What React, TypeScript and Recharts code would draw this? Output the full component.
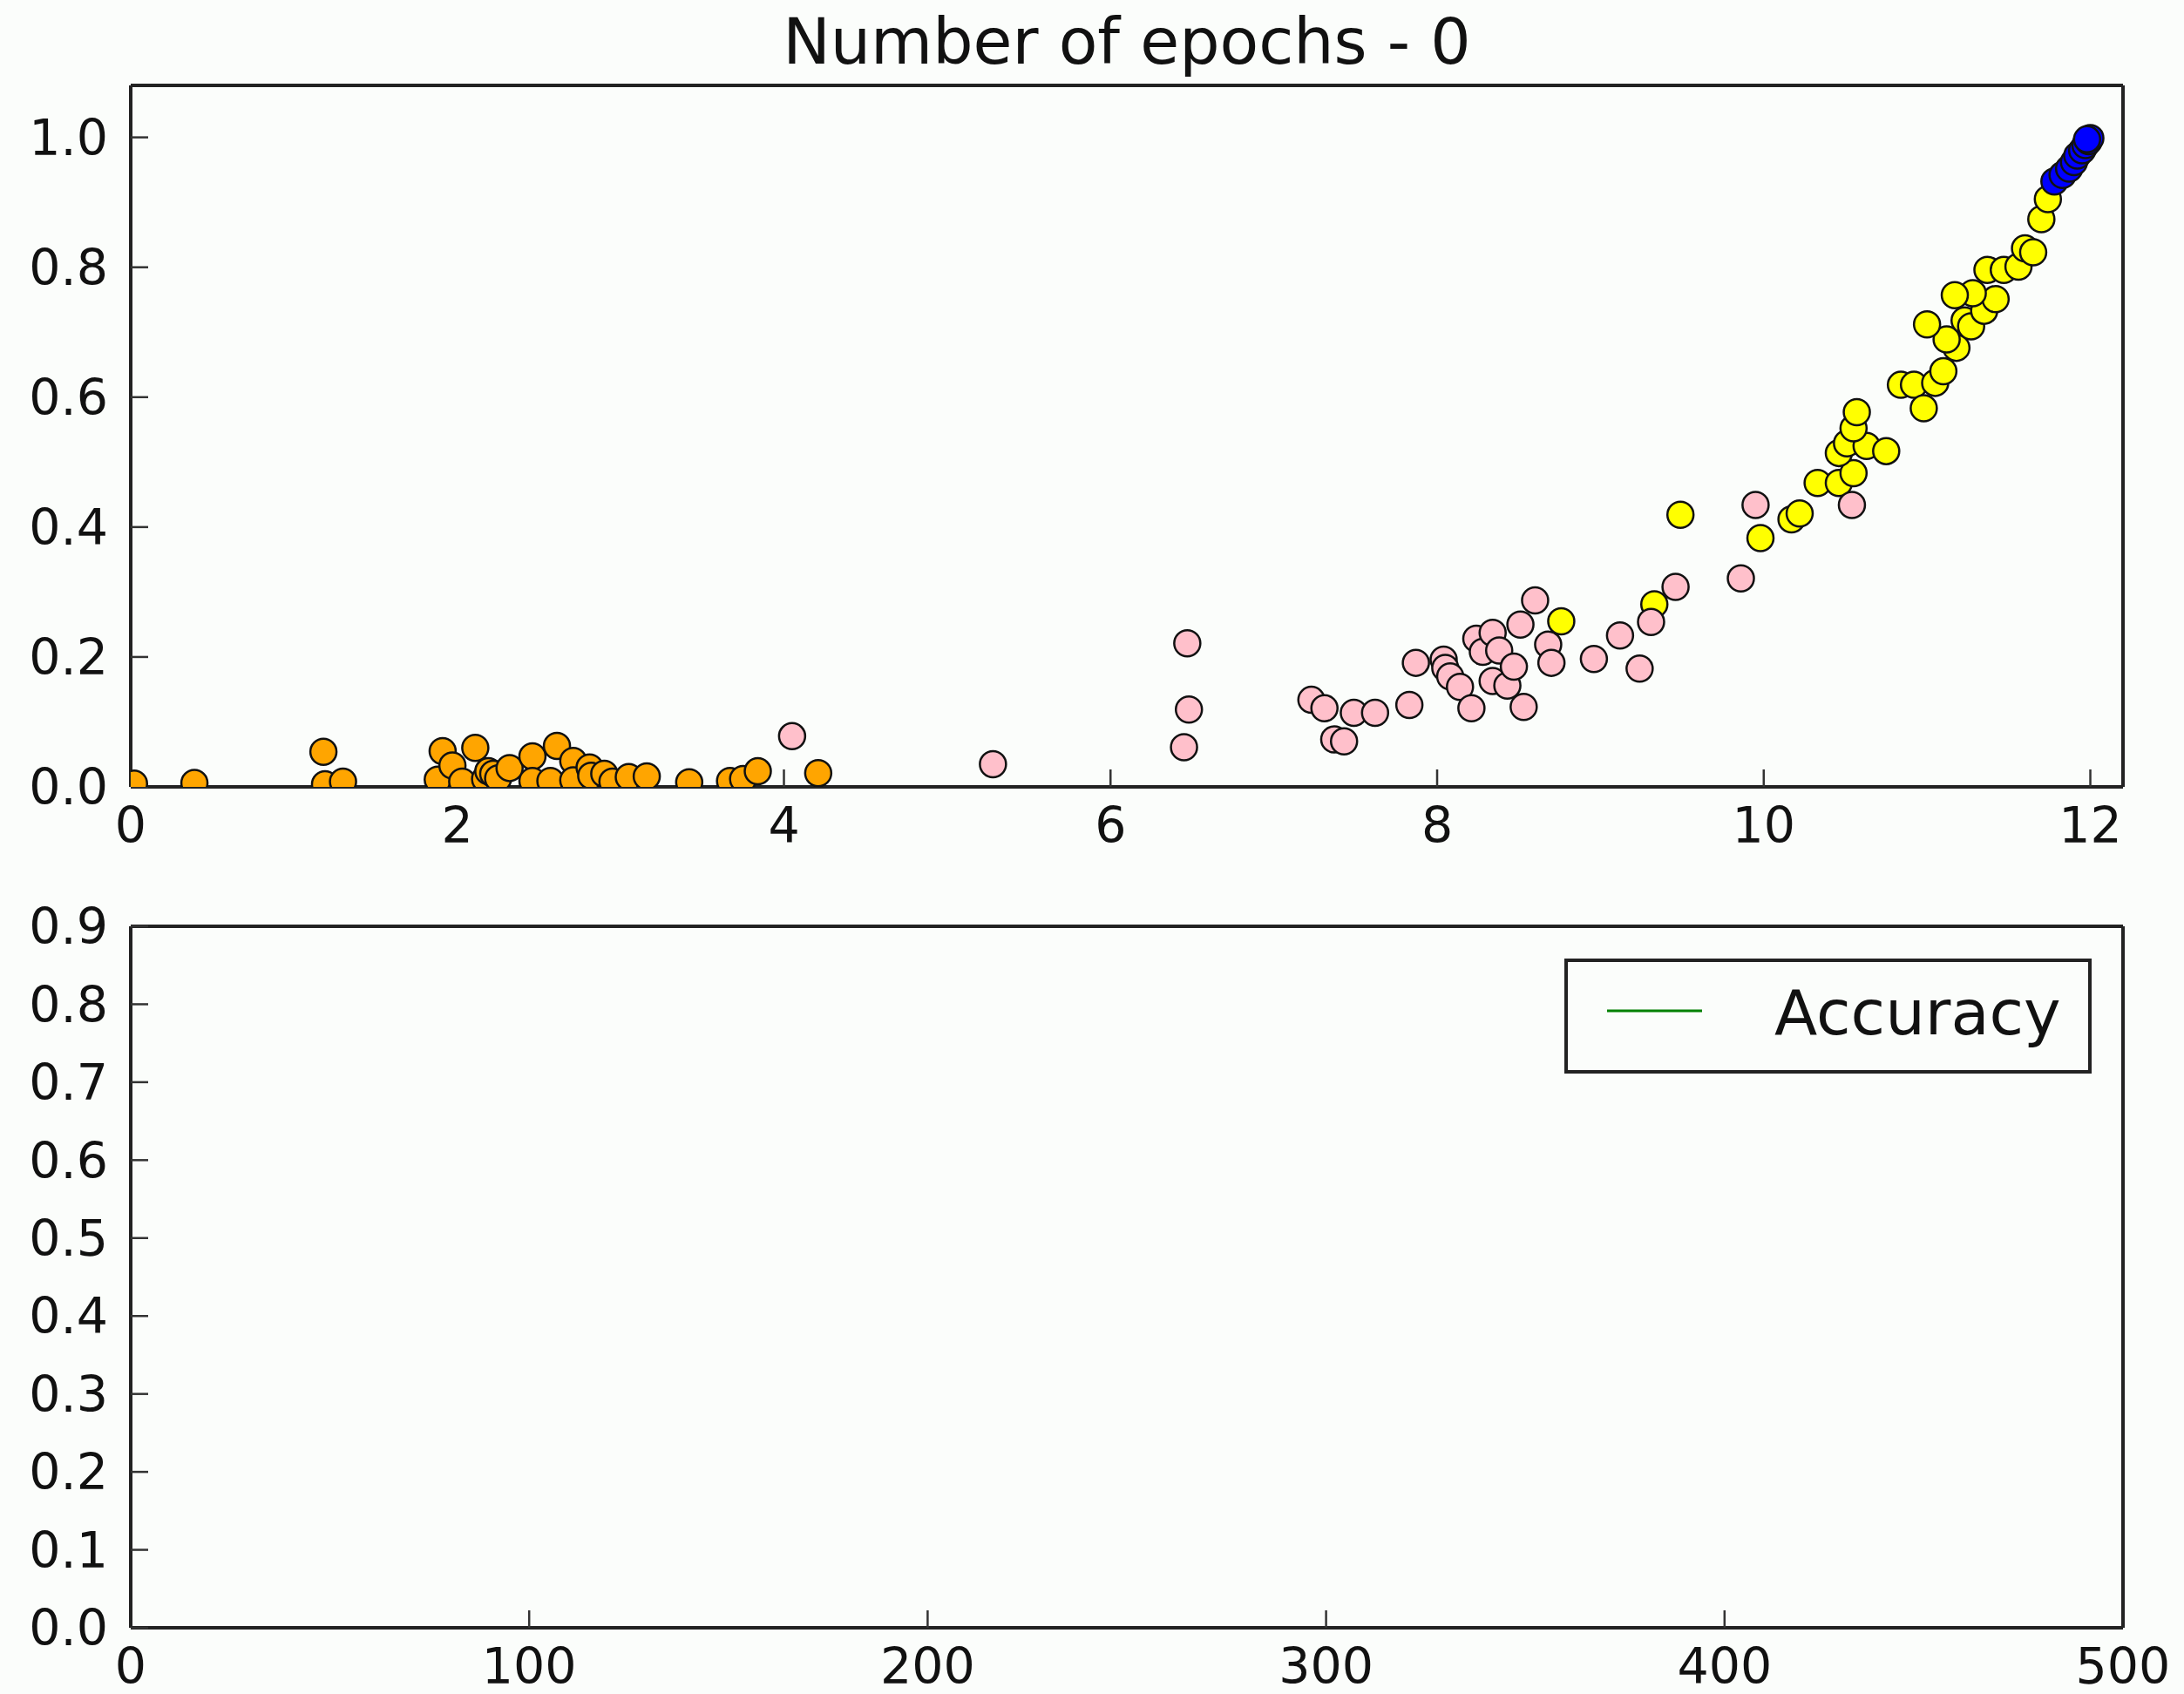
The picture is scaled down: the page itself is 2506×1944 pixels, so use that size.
import { Legend, Line, LineChart, Scatter, ScatterChart, XAxis, YAxis } from 'recharts'

const title = 'Number of epochs - 0'

// top panel, [x, y] per point
const orangePts: [number, number][] = [
  [0.02, 0.005], [0.39, 0.006], [1.18, 0.054], [1.19, 0.004], [1.3, 0.008],
  [1.88, 0.011], [1.91, 0.055], [1.97, 0.033], [2.03, 0.008], [2.11, 0.06],
  [2.17, 0.012], [2.19, 0.024], [2.22, 0.02], [2.25, 0.013], [2.32, 0.029],
  [2.46, 0.047], [2.46, 0.009], [2.57, 0.009], [2.61, 0.063], [2.71, 0.04],
  [2.71, 0.01], [2.81, 0.03], [2.82, 0.017], [2.9, 0.02], [2.95, 0.008],
  [3.05, 0.015], [3.16, 0.016], [3.42, 0.007], [3.67, 0.009], [3.75, 0.012],
  [3.84, 0.024], [4.21, 0.021],
]
const yellowPts: [number, number][] = [
  [8.76, 0.255], [9.33, 0.281], [9.49, 0.419], [9.98, 0.383], [10.17, 0.412],
  [10.22, 0.421], [10.33, 0.468], [10.46, 0.468], [10.55, 0.483], [10.46, 0.514],
  [10.51, 0.529], [10.63, 0.525], [10.75, 0.517], [10.55, 0.552], [10.57, 0.577],
  [10.84, 0.619], [10.92, 0.619], [10.98, 0.583], [11.05, 0.622], [11.1, 0.64],
  [11.18, 0.676], [11.12, 0.689], [11.0, 0.712], [11.23, 0.718], [11.27, 0.709],
  [11.35, 0.733], [11.42, 0.751], [11.28, 0.76], [11.17, 0.757], [11.37, 0.796],
  [11.47, 0.796], [11.56, 0.801], [11.6, 0.829], [11.65, 0.823], [11.7, 0.874],
  [11.74, 0.905],
]
const pinkPts: [number, number][] = [
  [4.05, 0.078], [5.28, 0.035], [6.45, 0.061], [6.48, 0.119], [6.47, 0.221],
  [7.23, 0.134], [7.31, 0.121], [7.37, 0.073], [7.43, 0.07], [7.49, 0.114],
  [7.62, 0.114], [7.83, 0.126], [7.87, 0.191], [8.04, 0.196], [8.05, 0.183],
  [8.08, 0.17], [8.14, 0.154], [8.21, 0.121], [8.24, 0.228], [8.28, 0.208],
  [8.34, 0.237], [8.38, 0.21], [8.34, 0.163], [8.43, 0.156], [8.47, 0.185],
  [8.53, 0.123], [8.51, 0.25], [8.6, 0.287], [8.68, 0.219], [8.7, 0.191],
  [8.96, 0.197], [9.12, 0.233], [9.24, 0.182], [9.31, 0.254], [9.46, 0.308],
  [9.86, 0.321], [9.95, 0.434], [10.54, 0.434],
]
const bluePts: [number, number][] = [
  [11.78, 0.932], [11.83, 0.942], [11.87, 0.952], [11.9, 0.962], [11.92, 0.972],
  [11.95, 0.98], [11.97, 0.988], [11.99, 0.994], [12.0, 0.999], [11.98, 0.997],
]

const topXTicks = [0, 2, 4, 6, 8, 10, 12]
const topYTicks = [0, 0.2, 0.4, 0.6, 0.8, 1.0]

// bottom panel: no accuracy recorded yet at epoch 0
const accEpochs: number[] = []
const accValues: number[] = []
const accLabel = 'Accuracy'
const bottomXTicks = [0, 100, 200, 300, 400, 500]
const bottomYTicks = [0, 0.1, 0.2, 0.3, 0.4, 0.5, 0.6, 0.7, 0.8, 0.9]

const bg = '#fbfdfb'
const font = 'DejaVu Sans'
const tickFont = { fontSize: 57, fill: '#111' }
const frame = { stroke: '#222', strokeWidth: 4 }
const tickMark = { stroke: '#333', strokeWidth: 2.5 }

const toRows = (pts: [number, number][]) => pts.map(([x, y]) => ({ x, y }))

const dot = (fill: string) => (p: any) => (
  <circle cx={p.cx} cy={p.cy} r={15} fill={fill} stroke="#111" strokeWidth={2.5} />
)

function LegendBox({ payload }: any) {
  const item = payload && payload[0]
  const color = item?.color ?? '#008000'
  const label = item?.value ?? accLabel
  return (
    <div style={{ boxSizing: 'border-box', width: 605, height: 132, border: '4px solid #222', position: 'relative', background: bg, fontFamily: font }}>
      <svg width={130} height={20} style={{ position: 'absolute', left: 45, top: 46 }}>
        <line x1={0} y1={10} x2={109} y2={10} stroke={color} strokeWidth={3} />
      </svg>
      <span style={{ position: 'absolute', left: 237, top: 22, fontSize: 72, lineHeight: '72px', color: '#111', whiteSpace: 'nowrap' }}>{label}</span>
    </div>
  )
}

export default function App() {
  const accData = accEpochs.map((e, i) => ({ epoch: e, acc: accValues[i] }))

  return (
    <div style={{ position: 'absolute', left: 0, top: 0, width: 2506, height: 1944, background: bg, fontFamily: font }}>
      <div style={{ position: 'absolute', left: 150, top: 11, width: 2286, textAlign: 'center', fontSize: 73, lineHeight: '73px', color: '#111' }}>
        {title}
      </div>

      <div style={{ position: 'absolute', left: 0, top: 0 }}>
        <ScatterChart width={2506} height={1000} margin={{ top: 96, right: 68, bottom: 37, left: 0 }}>
          <XAxis dataKey="x" type="number" domain={[0, 12.2]} ticks={topXTicks} allowDataOverflow
            height={60} axisLine={frame} tickLine={tickMark} tickSize={-20} tickMargin={44} tick={tickFont} />
          <XAxis xAxisId="top" orientation="top" type="number" domain={[0, 12.2]} ticks={topXTicks} allowDataOverflow
            height={2} axisLine={frame} tickLine={tickMark} tickSize={-20} tick={false} />
          <YAxis dataKey="y" type="number" domain={[0, 1.08]} ticks={topYTicks} allowDataOverflow
            width={150} axisLine={frame} tickLine={tickMark} tickSize={-20} tickMargin={46} tick={tickFont}
            tickFormatter={(v: number) => v.toFixed(1)} />
          <YAxis yAxisId="right" orientation="right" type="number" domain={[0, 1.08]} ticks={topYTicks} allowDataOverflow
            width={2} axisLine={frame} tickLine={tickMark} tickSize={-20} tick={false} />
          <Scatter data={toRows(orangePts)} shape={dot('#ffa500')} isAnimationActive={false} />
          <Scatter data={toRows(yellowPts)} shape={dot('#ffff00')} isAnimationActive={false} />
          <Scatter data={toRows(pinkPts)} shape={dot('#ffc0cb')} isAnimationActive={false} />
          <Scatter data={toRows(bluePts)} shape={dot('#0000ff')} isAnimationActive={false} />
        </ScatterChart>
      </div>

      <div style={{ position: 'absolute', left: 0, top: 1000 }}>
        <LineChart width={2506} height={944} data={accData} margin={{ top: 61, right: 68, bottom: 16, left: 0 }}>
          <XAxis dataKey="epoch" type="number" domain={[0, 500]} ticks={bottomXTicks} allowDataOverflow
            height={60} axisLine={frame} tickLine={tickMark} tickSize={-20} tickMargin={44} tick={tickFont} />
          <XAxis xAxisId="top" orientation="top" type="number" domain={[0, 500]} ticks={bottomXTicks} allowDataOverflow
            height={2} axisLine={frame} tickLine={tickMark} tickSize={-20} tick={false} />
          <YAxis type="number" domain={[0, 0.9]} ticks={bottomYTicks} allowDataOverflow
            width={150} axisLine={frame} tickLine={tickMark} tickSize={-20} tickMargin={46} tick={tickFont}
            tickFormatter={(v: number) => v.toFixed(1)} />
          <YAxis yAxisId="right" orientation="right" type="number" domain={[0, 0.9]} ticks={bottomYTicks} allowDataOverflow
            width={2} axisLine={frame} tickLine={tickMark} tickSize={-20} tick={false} />
          <Line dataKey="acc" name={accLabel} stroke="#008000" strokeWidth={3} dot={false} isAnimationActive={false} />
          <Legend content={<LegendBox />} layout="vertical" verticalAlign="middle" align="center"
            wrapperStyle={{ left: 1795, top: 100, width: 605, height: 132 }} />
        </LineChart>
      </div>
    </div>
  )
}
